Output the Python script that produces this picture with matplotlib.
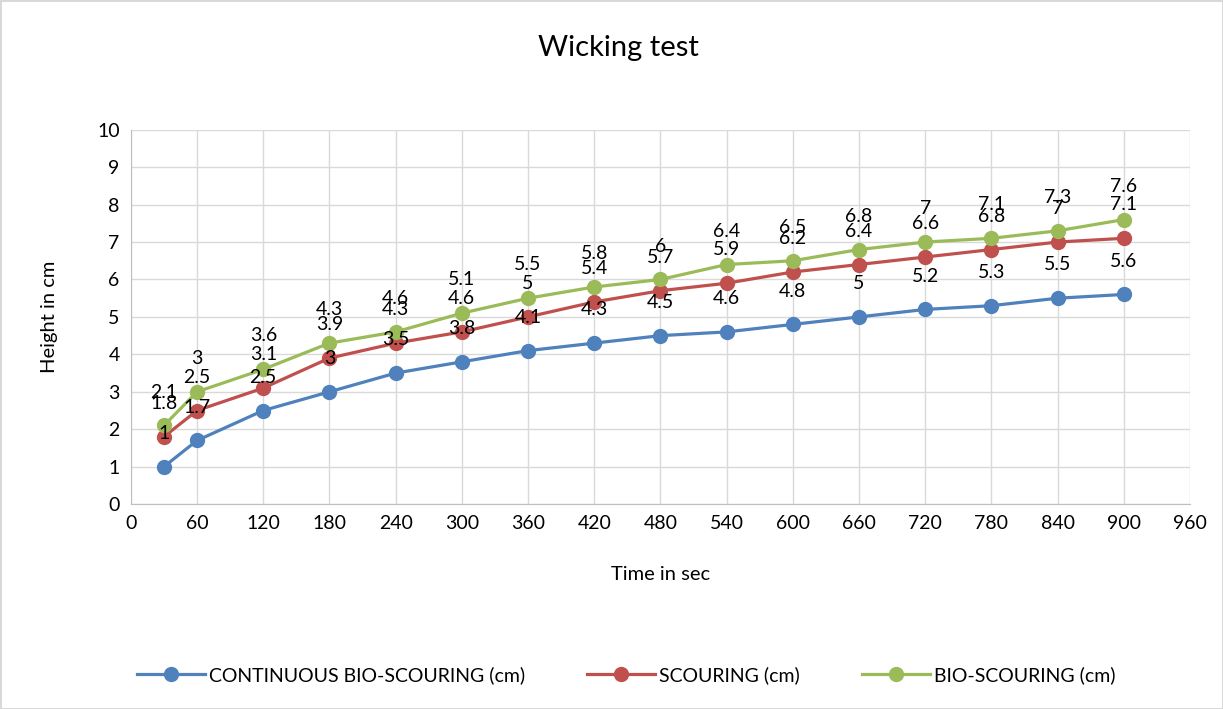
import matplotlib.pyplot as plt

# wicking heights per treatment
time_sec = [30, 60, 120, 180, 240, 300, 360, 420, 480, 540, 600, 660, 720, 780, 840, 900]
continuous_bio = [1, 1.7, 2.5, 3, 3.5, 3.8, 4.1, 4.3, 4.5, 4.6, 4.8, 5, 5.2, 5.3, 5.5, 5.6]
scouring = [1.8, 2.5, 3.1, 3.9, 4.3, 4.6, 5, 5.4, 5.7, 5.9, 6.2, 6.4, 6.6, 6.8, 7, 7.1]
bio_scouring = [2.1, 3, 3.6, 4.3, 4.6, 5.1, 5.5, 5.8, 6, 6.4, 6.5, 6.8, 7, 7.1, 7.3, 7.6]
series_names = ["CONTINUOUS BIO-SCOURING (cm)", "SCOURING (cm)", "BIO-SCOURING (cm)"]
colors = ["#4F81BD", "#C0504D", "#9BBB59"]

plt.rcParams['font.family'] = ['Lato', 'DejaVu Sans']

fig = plt.figure(figsize=(12.23, 7.09), dpi=100)
fig.patch.set_edgecolor("#D9D9D9")
fig.patch.set_linewidth(2)
ax = fig.add_axes([0.107, 0.289, 0.866, 0.528])

for vals, name, c in zip([continuous_bio, scouring, bio_scouring], series_names, colors):
    ax.plot(time_sec, vals, color=c, lw=2.3, marker="o", ms=10, label=name, zorder=3)
    for x, y in zip(time_sec, vals):
        ax.annotate("{:g}".format(y), (x, y), xytext=(0, 24), textcoords="offset points",
                    ha="center", va="center", fontsize=14, zorder=4)

ax.set_xlim(0, 960)
ax.set_ylim(0, 10)
ax.set_xticks(range(0, 961, 60))
ax.set_yticks(range(0, 11))
ax.grid(True, color="#D9D9D9", lw=1)
ax.set_axisbelow(True)
for s in ["top", "right"]:
    ax.spines[s].set_visible(False)
for s in ["left", "bottom"]:
    ax.spines[s].set_color("#BFBFBF")
ax.tick_params(length=0, labelsize=14, pad=8)

# title centred on the whole chart, not the plot area
fig.text(0.506, 0.932, "Wicking test", fontsize=21, ha="center", va="center")
ax.set_xlabel("Time in sec", fontsize=14.5, labelpad=24)
ax.set_ylabel("Height in cm", fontsize=14.5, labelpad=28)

fig.legend(loc="center", bbox_to_anchor=(0.512, 0.048), ncol=3, frameon=False,
           fontsize=14, handlelength=3.5, columnspacing=3.2, handletextpad=0.2)

fig.savefig("out.png", dpi=100)
